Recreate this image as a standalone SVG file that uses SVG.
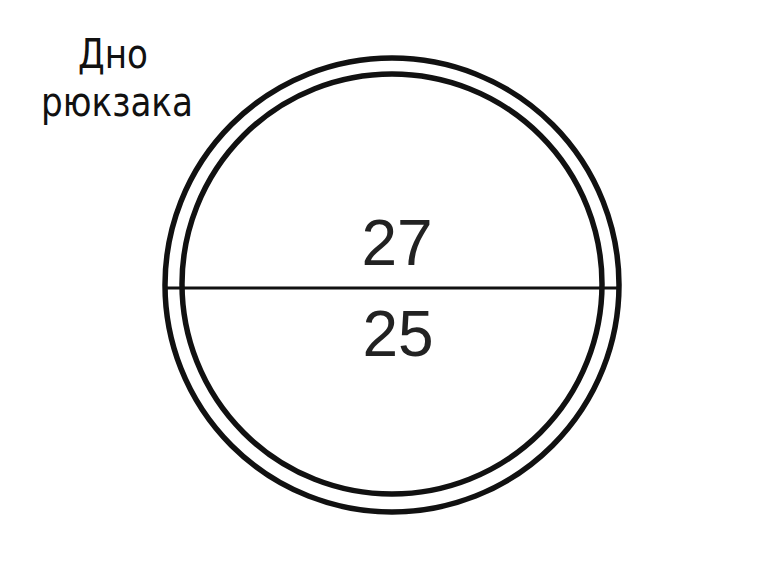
<svg xmlns="http://www.w3.org/2000/svg" width="773" height="580" viewBox="0 0 773 580">
<style>
.ring{fill:none;stroke:#111;stroke-width:5.5}
.num{font-family:"Liberation Sans",Arial,sans-serif;font-size:64px;fill:#222;text-anchor:middle}
.lbl{font-family:"DejaVu Sans","Noto Sans",sans-serif;font-size:40px;fill:#111}
</style>
<rect width="773" height="580" fill="#fff"/>
<g id="label">
<text class="lbl" x="78" y="68" textLength="70" lengthAdjust="spacingAndGlyphs">Дно</text>
<text class="lbl" x="41" y="116" textLength="152" lengthAdjust="spacingAndGlyphs">рюкзака</text>
</g>
<g id="outer-ring"><circle class="ring" cx="392" cy="285" r="227"/></g>
<g id="inner-ring"><circle class="ring" cx="392" cy="284" r="210"/></g>
<g id="connectors"><line x1="166" y1="288" x2="617" y2="288" stroke="#111" stroke-width="3"/></g>
<g id="top-value"><text class="num" x="397" y="265">27</text></g>
<g id="bottom-value"><text class="num" x="398" y="356">25</text></g>
</svg>
